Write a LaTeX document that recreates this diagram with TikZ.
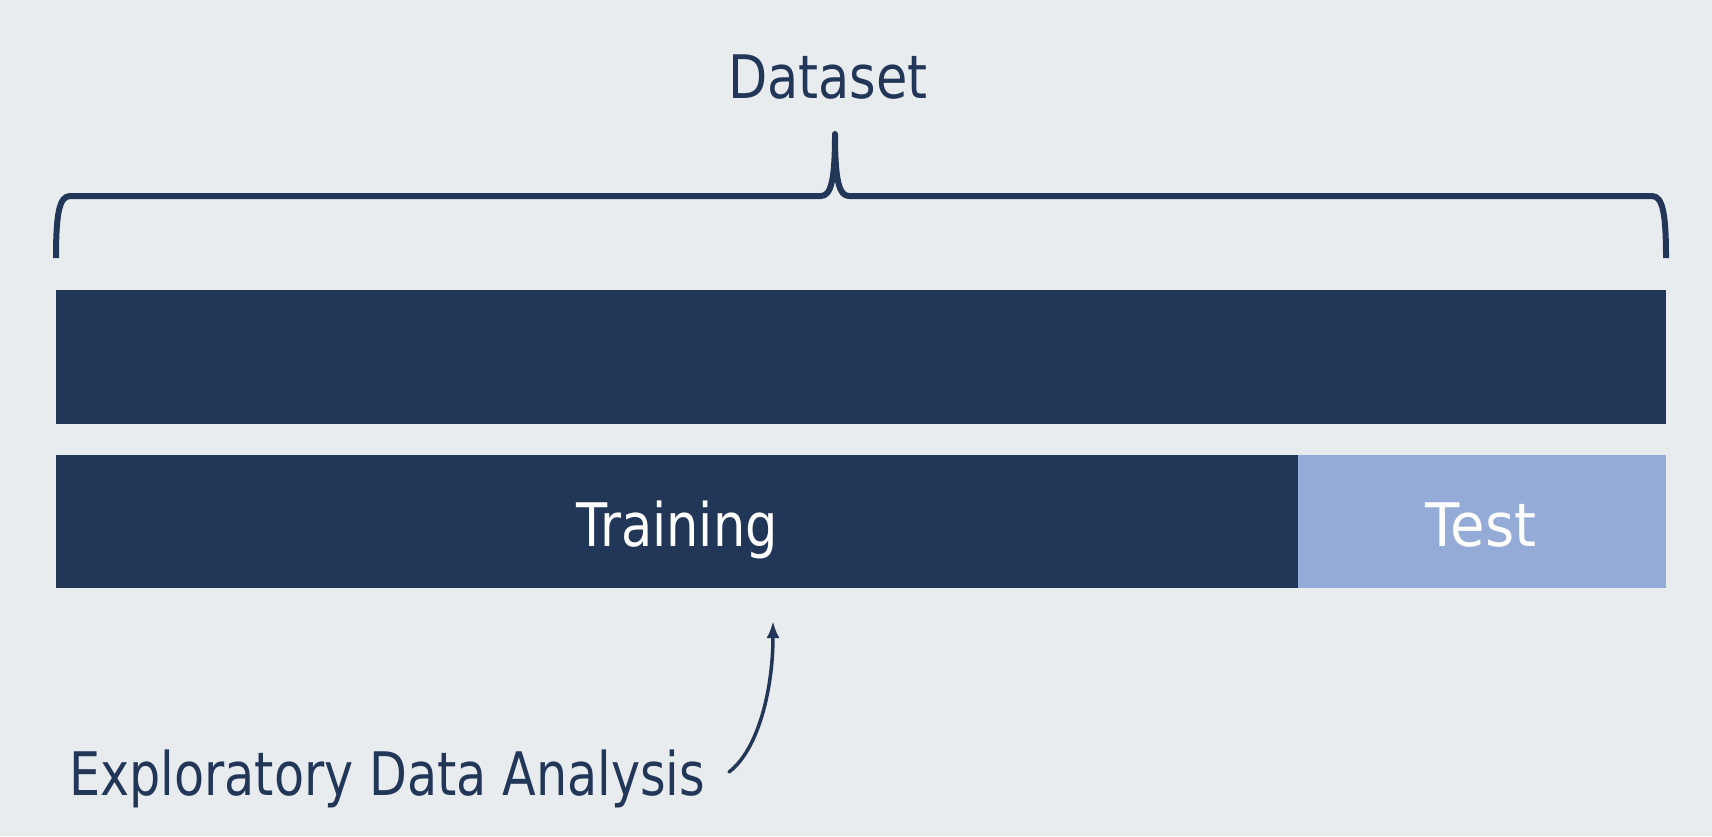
\documentclass[tikz,border=0pt]{standalone}
\usepackage{fontspec}
\setmainfont{DejaVu Sans}[FakeStretch=0.85]
\usetikzlibrary{arrows.meta}
\definecolor{navy}{HTML}{223658}
\definecolor{lightblue}{HTML}{94AAD7}
\definecolor{bg}{HTML}{E8ECEF}
\tikzset{
  bar/.style={rectangle, inner sep=0pt, outer sep=0pt, draw=none},
  lbl/.style={inner sep=0pt, font=\fontsize{60}{72}\selectfont},
  conn/.style={draw=navy, line cap=round, line join=round}
}
\begin{document}
\begin{tikzpicture}[x=1pt,y=-1pt]
\fill[bg] (0,0) rectangle (1712,836);
\useasboundingbox (0,0) rectangle (1712,836);
% bars
\node[bar, fill=navy, minimum width=1610pt, minimum height=134pt] (data) at (861,357) {};
\node[bar, fill=navy, minimum width=1242pt, minimum height=133pt] (train) at (677,521.5) {};
\node[bar, fill=lightblue, minimum width=368pt, minimum height=133pt] (test) at (1482,521.5) {};
% labels
\node[lbl, text=navy, anchor=base] (dslbl) at (828,98) {Dataset};
\node[lbl, text=white, anchor=base] (trlbl) at (train.center |- 0,546) {Training};
\node[lbl, text=white, anchor=base] (telbl) at (1481,546) {\scalebox{1.1}[1]{Test}};
\node[lbl, text=navy, anchor=base west] (eda) at (69,795) {\scalebox{0.965}[1]{Exploratory Data Analysis}};
% brace
\draw[conn, line width=6pt, line cap=butt]
  (56,258) .. controls (56,215) and (59,196) .. (70,196) -- (821,196)
  .. controls (831,196) and (835,180) .. (835,134)
  .. controls (835,180) and (839,196) .. (849,196) -- (1652,196)
  .. controls (1663,196) and (1666,215) .. (1666,258);
% arrow
\coordinate (arrS) at (729,772);
\coordinate (arrE) at (773,621);
\draw[conn, line width=3.5pt, -{Latex[length=17pt,width=13pt]}]
  (arrS) .. controls (758,750) and (773,690) .. (arrE);
\end{tikzpicture}
\end{document}
